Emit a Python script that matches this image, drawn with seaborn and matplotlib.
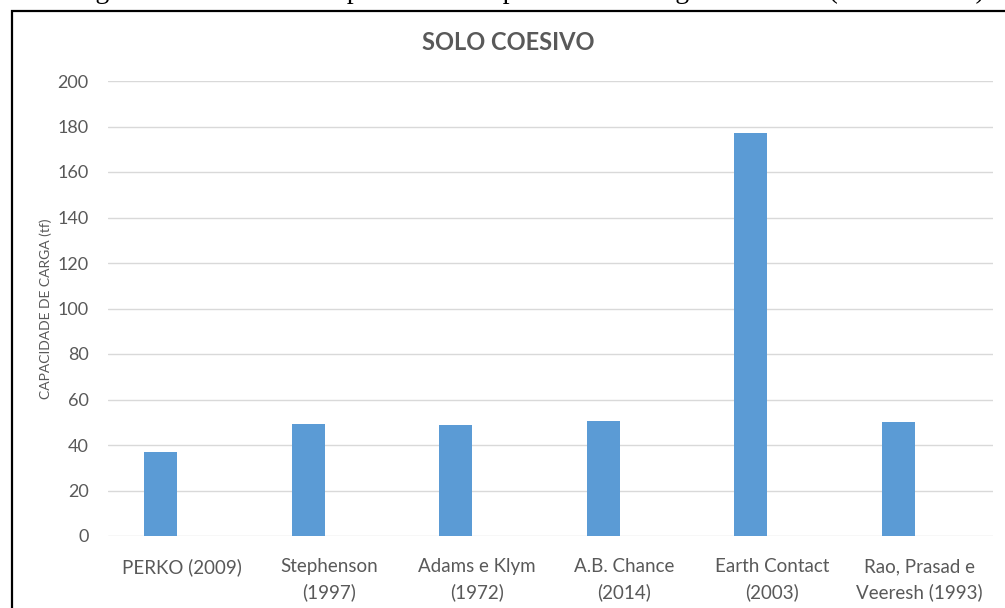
import matplotlib
matplotlib.use("Agg")
import matplotlib.pyplot as plt
from matplotlib.patches import Rectangle
import seaborn as sns
import pandas as pd

# Bearing capacity of individual helical piles in cohesive soil (tf)
autores = [
    "PERKO (2009)",
    "Stephenson\n(1997)",
    "Adams e Klym\n(1972)",
    "A.B. Chance\n(2014)",
    "Earth Contact\n(2003)",
    "Rao, Prasad e\nVeeresh (1993)",
]
capacidade = [37.1, 49.2, 48.9, 50.5, 177.0, 50.2]
# second (empty) series of the clustered column layout
serie_vazia = [0, 0, 0, 0, 0, 0]
y_ticks = [0, 20, 40, 60, 80, 100, 120, 140, 160, 180, 200]

sns.set_theme(style="white")
plt.rcParams["font.family"] = ["Lato", "DejaVu Sans"]

df = pd.DataFrame({
    "autor": autores * 2,
    "carga": capacidade + serie_vazia,
    "serie": ["Capacidade"] * len(autores) + ["Vazio"] * len(autores),
})

W, H = 1005, 608
fig = plt.figure(figsize=(W / 100, H / 100), dpi=100)
ax = fig.add_axes([108 / W, (H - 536) / H, (993 - 108) / W, (536 - 81) / H])

azul = "#5B9BD5"
cinza = "#595959"

sns.barplot(
    data=df, x="autor", y="carga", hue="serie",
    palette=[azul, azul], saturation=1, width=0.568, gap=0.213, dodge=True,
    errorbar=None, linewidth=0, legend=False, ax=ax,
)

ax.set_xlim(-0.5, len(autores) - 0.5)
ax.set_ylim(0, 200)
ax.set_yticks(y_ticks)
ax.yaxis.grid(True, color="#D9D9D9", linewidth=1)
ax.set_axisbelow(True)
for s in ax.spines.values():
    s.set_visible(False)
ax.tick_params(axis="both", length=0, labelcolor=cinza)
ax.tick_params(axis="y", pad=14, labelsize=13)
ax.tick_params(axis="x", pad=16, labelsize=13.5)
ax.set_xlabel("")
ax.set_ylabel("CAPACIDADE DE CARGA (tf)", fontsize=10, color=cinza, labelpad=4)
for lbl in ax.get_xticklabels():
    lbl.set_linespacing(1.55)

fig.text(508 / W, 1 - 43 / H, "SOLO COESIVO", ha="center", va="center",
         fontsize=17, fontweight="bold", color=cinza)

# chart border
fig.patches.append(Rectangle((12 / W, -0.1), 1.2, 1 - 11 / H + 0.1,
                             transform=fig.transFigure, fill=False,
                             edgecolor="black", linewidth=1.6))

# figure caption above the chart
fig.text(985 / W, 1 + 2 / H,
         "Figura 30 \u2013 Gráfico comparativo da capacidade de carga individual (solo coesivo)",
         ha="right", va="baseline", fontsize=20,
         family=["Liberation Serif", "DejaVu Serif"], color="black")

fig.savefig("out.png", dpi=100)
